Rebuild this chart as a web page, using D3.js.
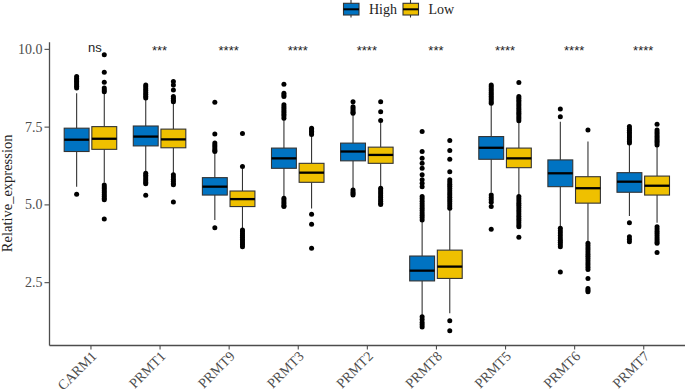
<!DOCTYPE html>
<html>
<head>
<meta charset="utf-8">
<script src="https://cdn.jsdelivr.net/npm/d3@7"></script>
<style>
    body { margin: 0; background: #fff; }
    svg { display: block; }
</style>
</head>
<body>
<div id="chart"></div>
<script>
const genes = ["CARM1", "PRMT1", "PRMT9", "PRMT3", "PRMT2", "PRMT8", "PRMT5", "PRMT6", "PRMT7"];
const groups = ["High", "Low"];
const groupColors = ["#0073C2", "#EFC000"];
const sigLabels = ["ns", "***", "****", "****", "****", "***", "****", "****", "****"];
const yTicks = [2.5, 5.0, 7.5, 10.0];

// five number summary per gene
const highLower  = [5.57, 5.95, 4.50, 5.20, 5.52, 1.44, 5.38, 4.28, 4.63];
const highQ1     = [6.70, 6.88, 5.30, 6.16, 6.40, 2.54, 6.45, 5.57, 5.39];
const highMedian = [7.08, 7.18, 5.57, 6.48, 6.70, 2.87, 6.82, 6.00, 5.73];
const highQ3     = [7.45, 7.52, 5.86, 6.81, 6.97, 3.34, 7.18, 6.43, 6.02];
const highUpper  = [8.57, 8.41, 6.64, 7.72, 7.88, 4.44, 8.25, 7.66, 6.94];

const lowLower  = [5.70, 6.00, 4.23, 4.87, 5.57, 1.50, 5.30, 3.80, 4.41];
const lowQ1     = [6.77, 6.82, 4.93, 5.71, 6.32, 2.62, 6.18, 5.04, 5.30];
const lowMedian = [7.11, 7.09, 5.17, 6.02, 6.59, 3.00, 6.48, 5.52, 5.60];
const lowQ3     = [7.50, 7.42, 5.43, 6.32, 6.84, 3.53, 6.81, 5.89, 5.91];
const lowUpper  = [8.57, 8.25, 6.15, 7.22, 7.64, 4.82, 7.66, 7.02, 6.86];

const highOutliers = [
    [9.11, 9.05, 9.00, 8.95, 8.90, 8.85, 8.80, 8.74, 5.33],
    [8.84, 8.78, 8.72, 8.66, 8.60, 8.54, 8.48, 8.42, 6.00, 5.94, 5.88, 5.82, 5.76, 5.70, 5.66, 5.29],
    [8.28, 7.26, 6.97, 6.91, 6.85, 6.79, 6.73, 6.70, 4.25],
    [8.86, 8.57, 8.52, 8.47, 8.20, 8.14, 8.08, 8.02, 7.96, 7.90, 7.84, 7.77, 5.20, 5.14, 5.08, 5.02, 4.96, 4.93],
    [8.30, 8.14, 8.08, 8.02, 7.96, 7.93, 5.46, 5.40, 5.35, 5.30],
    [7.34, 6.70, 6.48, 6.32, 6.16, 5.95, 5.79, 5.68, 5.57, 5.25, 5.18, 5.10, 5.02, 4.95, 4.88, 4.80, 4.72, 4.65, 4.58, 4.50, 1.39, 1.30, 1.20, 1.13, 1.06],
    [8.84, 8.78, 8.72, 8.66, 8.60, 8.54, 8.48, 8.42, 8.36, 8.30, 8.25, 5.30, 5.22, 5.15, 5.07, 4.93, 4.20],
    [8.07, 7.82, 4.23, 4.15, 4.08, 4.00, 3.92, 3.85, 3.78, 3.71, 3.64, 2.83],
    [7.50, 7.44, 7.38, 7.32, 7.26, 7.20, 7.14, 7.08, 7.02, 6.97, 4.41, 3.96, 3.88, 3.80]
];

const lowOutliers = [
    [9.81, 9.25, 8.93, 8.74, 8.68, 8.62, 5.62, 5.56, 5.50, 5.44, 5.38, 5.32, 5.26, 5.20, 5.15, 4.53],
    [8.95, 8.84, 8.68, 8.47, 8.41, 8.35, 8.30, 5.95, 5.88, 5.81, 5.74, 5.67, 5.63, 5.08],
    [7.28, 6.22, 4.18, 4.12, 4.06, 4.00, 3.94, 3.88, 3.82, 3.76, 3.70, 3.64],
    [7.45, 7.40, 7.35, 7.30, 7.25, 4.68, 4.36, 3.59],
    [8.30, 7.98, 7.70, 5.52, 5.46, 5.40, 5.34, 5.28, 5.22, 5.16, 5.10, 5.04, 5.00],
    [7.05, 6.73, 6.45, 6.05, 5.79, 5.72, 5.65, 5.58, 5.51, 5.44, 5.37, 5.30, 5.23, 5.16, 5.09, 5.02, 4.95, 4.88, 1.26, 0.94],
    [8.92, 8.47, 8.41, 8.35, 8.29, 8.23, 8.17, 8.11, 8.05, 7.99, 7.93, 7.87, 7.81, 7.75, 7.69, 5.25, 5.18, 5.11, 5.04, 4.97, 4.90, 4.83, 4.76, 4.69, 4.62, 4.55, 4.48, 4.41, 4.34, 4.28, 3.94],
    [7.39, 3.75, 3.68, 3.61, 3.54, 3.47, 3.40, 3.33, 3.26, 3.19, 3.12, 3.05, 2.98, 2.91, 2.62, 2.30, 2.24, 2.19],
    [7.58, 7.39, 7.33, 7.27, 7.21, 7.15, 7.09, 7.03, 6.97, 6.91, 4.28, 4.21, 4.14, 4.07, 4.00, 3.93, 3.86, 3.80, 3.75, 3.45]
];

const SERIF = "'Liberation Serif', 'Times New Roman', serif";
const SANS = "'Liberation Sans', Arial, sans-serif";

function buildRows(){
    const rows = [];
    genes.forEach((gene, i) => {
        rows.push({gene: gene, group: "High", lower: highLower[i], q1: highQ1[i], median: highMedian[i],
                   q3: highQ3[i], upper: highUpper[i], outliers: highOutliers[i]});
        rows.push({gene: gene, group: "Low", lower: lowLower[i], q1: lowQ1[i], median: lowMedian[i],
                   q3: lowQ3[i], upper: lowUpper[i], outliers: lowOutliers[i]});
    });
    return rows;
}

function renderChart(parent){
    const width = 685;
    const height = 392;
    const panel = {left: 49, right: 684.7, top: 41.7, bottom: 345};
    const ink = "#333333";
    const axisColor = "#4D4D4D";

    const svg = d3.select(parent)
        .append("svg")
        .attr("width", width)
        .attr("height", height);

    const x = d3.scalePoint()
        .domain(genes)
        .range([panel.left, panel.right])
        .padding(0.6);

    const step = x.step();

    const dodge = d3.scaleBand()
        .domain(groups)
        .range([-0.4 * step, 0.4 * step]);

    const boxWidth = dodge.bandwidth() * 0.9;

    const y = d3.scaleLinear()
        .domain([0.48, 10.23])
        .range([panel.bottom, panel.top]);

    const color = d3.scaleOrdinal().domain(groups).range(groupColors);

    const rows = buildRows();

    const boxes = svg.append("g")
        .selectAll("g")
        .data(rows)
        .join("g")
        .attr("transform", d => `translate(${x(d.gene) + dodge(d.group) + dodge.bandwidth() / 2},0)`);

    // whiskers
    boxes.append("line")
        .attr("y1", d => y(d.upper))
        .attr("y2", d => y(d.q3))
        .attr("stroke", ink)
        .attr("stroke-width", 1.1);

    boxes.append("line")
        .attr("y1", d => y(d.q1))
        .attr("y2", d => y(d.lower))
        .attr("stroke", ink)
        .attr("stroke-width", 1.1);

    boxes.append("rect")
        .attr("x", -boxWidth / 2)
        .attr("width", boxWidth)
        .attr("y", d => y(d.q3))
        .attr("height", d => y(d.q1) - y(d.q3))
        .attr("fill", d => color(d.group))
        .attr("stroke", ink)
        .attr("stroke-width", 1.1);

    boxes.append("line")
        .attr("x1", -boxWidth / 2)
        .attr("x2", boxWidth / 2)
        .attr("y1", d => y(d.median))
        .attr("y2", d => y(d.median))
        .attr("stroke", "#000")
        .attr("stroke-width", 2.3);

    boxes.selectAll("circle")
        .data(d => d.outliers)
        .join("circle")
        .attr("cy", d => y(d))
        .attr("r", 2.5)
        .attr("fill", "#000");

    // axes
    const yAxis = svg.append("g")
        .attr("transform", `translate(${panel.left},0)`)
        .call(d3.axisLeft(y).tickValues(yTicks).tickFormat(d3.format(".1f")).tickSize(4.5).tickSizeOuter(0));

    const xAxis = svg.append("g")
        .attr("transform", `translate(0,${panel.bottom})`)
        .call(d3.axisBottom(x).tickSize(4.5).tickSizeOuter(0));

    [xAxis, yAxis].forEach(axis => {
        axis.attr("font-family", SERIF).attr("font-size", 14);
        axis.select(".domain").attr("stroke", axisColor).attr("stroke-width", 1.3);
        axis.selectAll(".tick line").attr("stroke", axisColor).attr("stroke-width", 1.1);
        axis.selectAll("text")
            .attr("font-family", SERIF)
            .attr("font-size", 14)
            .attr("fill", axisColor);
    });

    yAxis.selectAll("text").attr("x", -6.5);

    xAxis.selectAll("text")
        .attr("text-anchor", "end")
        .attr("y", 0)
        .attr("dy", 0)
        .attr("transform", "translate(6.5,12) rotate(-45)");

    svg.append("text")
        .attr("font-family", SERIF)
        .attr("font-size", 14.5)
        .attr("fill", "#222")
        .attr("text-anchor", "middle")
        .attr("transform", `translate(12,${(panel.top + panel.bottom) / 2}) rotate(-90)`)
        .text("Relative_expression");

    // significance labels
    svg.append("g")
        .selectAll("text")
        .data(genes)
        .join("text")
        .attr("font-family", SANS)
        .attr("font-size", 13)
        .attr("fill", "#222")
        .attr("text-anchor", "middle")
        .attr("x", (d, i) => x(d) + (sigLabels[i] === "ns" ? 4.5 : 0))
        .attr("y", (d, i) => y(10.0) + (sigLabels[i] === "ns" ? 3.5 : 6))
        .text((d, i) => sigLabels[i]);

    renderLegend(svg, color, ink);
}

function renderLegend(svg, color, ink){
    const keys = [
        {group: "High", x: 343},
        {group: "Low", x: 402.5}
    ];

    const legend = svg.append("g")
        .selectAll("g")
        .data(keys)
        .join("g")
        .attr("transform", d => `translate(${d.x},0)`);

    legend.append("line")
        .attr("x1", 8).attr("x2", 8)
        .attr("y1", 0).attr("y2", 17.5)
        .attr("stroke", ink)
        .attr("stroke-width", 1.1);

    legend.append("rect")
        .attr("x", 0.5)
        .attr("y", 3.3)
        .attr("width", 15.5)
        .attr("height", 11.7)
        .attr("fill", d => color(d.group))
        .attr("stroke", ink)
        .attr("stroke-width", 1.1);

    legend.append("line")
        .attr("x1", 0.5).attr("x2", 16)
        .attr("y1", 9.3).attr("y2", 9.3)
        .attr("stroke", "#000")
        .attr("stroke-width", 2);

    legend.append("text")
        .attr("font-family", SERIF)
        .attr("font-size", 14)
        .attr("fill", "#222")
        .attr("x", 26)
        .attr("y", 14)
        .text(d => d.group);
}

renderChart(document.querySelector("#chart"));
</script>
</body>
</html>
